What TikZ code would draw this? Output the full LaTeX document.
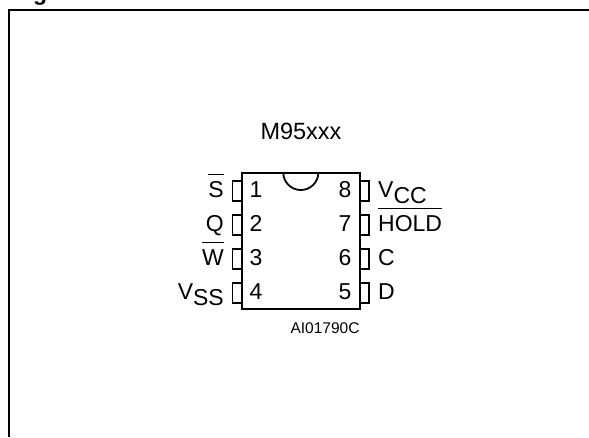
\documentclass[tikz,border=0pt]{standalone}
\usepackage{fontspec}
\setmainfont{Liberation Sans}
\tikzset{
  px/.style={x=1pt,y=-1pt},
  frame/.style={line width=2pt,line cap=butt},
  chip/.style={line width=1.8pt},
  lbl/.style={inner sep=0pt,font=\fontsize{23.5}{26}\selectfont,anchor=base},
  pinl/.style={inner sep=0pt,font=\fontsize{23}{26}\selectfont,anchor=base west},
  pinr/.style={inner sep=0pt,font=\fontsize{23}{26}\selectfont,anchor=base east},
  code/.style={inner sep=0pt,font=\fontsize{15.5}{18}\selectfont,anchor=base}
}
\newsavebox{\ovlbox}
\newcommand{\ovl}[1]{\sbox{\ovlbox}{#1}\rlap{\rule[22.2pt]{\wd\ovlbox}{1.2pt}}\usebox{\ovlbox}}
\newcommand{\subdrop}[2]{\raisebox{-#1}{#2}}
\begin{document}
\begin{tikzpicture}[px]
\useasboundingbox (0,0) rectangle (589,437);
\begin{scope}
\clip (0,0) rectangle (589,437);
\node[inner sep=0pt,anchor=base west,font=\bfseries\fontsize{23}{26}\selectfont] (ttl) at (33,0) {g};
\draw[frame] (9,437) -- (9,9.5) -- (589,9.5);
\end{scope}
\node[lbl] (name) at (301,139.5) {M95xxx};
\draw[chip] (241.7,172.7) rectangle (360.3,308.7);
\draw[chip] (283.3,172.7) arc[start angle=180,end angle=360,x radius=17.5,y radius=-17.3];
\foreach \y in {191,225,259,293}{
  \draw[chip] (241.7,\y-10) -- (232.5,\y-10) -- (232.5,\y+10) -- (241.7,\y+10);
  \draw[chip] (360.3,\y-10) -- (369.3,\y-10) -- (369.3,\y+10) -- (360.3,\y+10);
}
\node[pinl] (n1) at (249.5,197.3) {1};
\node[pinl] (n2) at (249.5,231.3) {2};
\node[pinl] (n3) at (249.5,265.3) {3};
\node[pinl] (n4) at (249.5,299.3) {4};
\node[pinr] (n8) at (351.5,197.3) {8};
\node[pinr] (n7) at (351.5,231.3) {7};
\node[pinr] (n6) at (351.5,265.3) {6};
\node[pinr] (n5) at (351.5,299.3) {5};
\node[pinr] (ls) at (224,197.3) {\ovl{S}};
\node[pinr] (lq) at (224,231.3) {Q};
\node[pinr] (lw) at (224,265.3) {\ovl{W}};
\node[pinr] (lv) at (224,299.3) {V\subdrop{6.5pt}{SS}};
\node[pinl] (rv) at (378,197.3) {V\subdrop{6.5pt}{CC}};
\node[pinl] (rh) at (378,231.3) {\ovl{HOLD}};
\node[pinl] (rc) at (378,265.3) {C};
\node[pinl] (rd) at (378,299.3) {D};
\node[code] (cd) at (325,333.3) {AI01790C};
\end{tikzpicture}
\end{document}
